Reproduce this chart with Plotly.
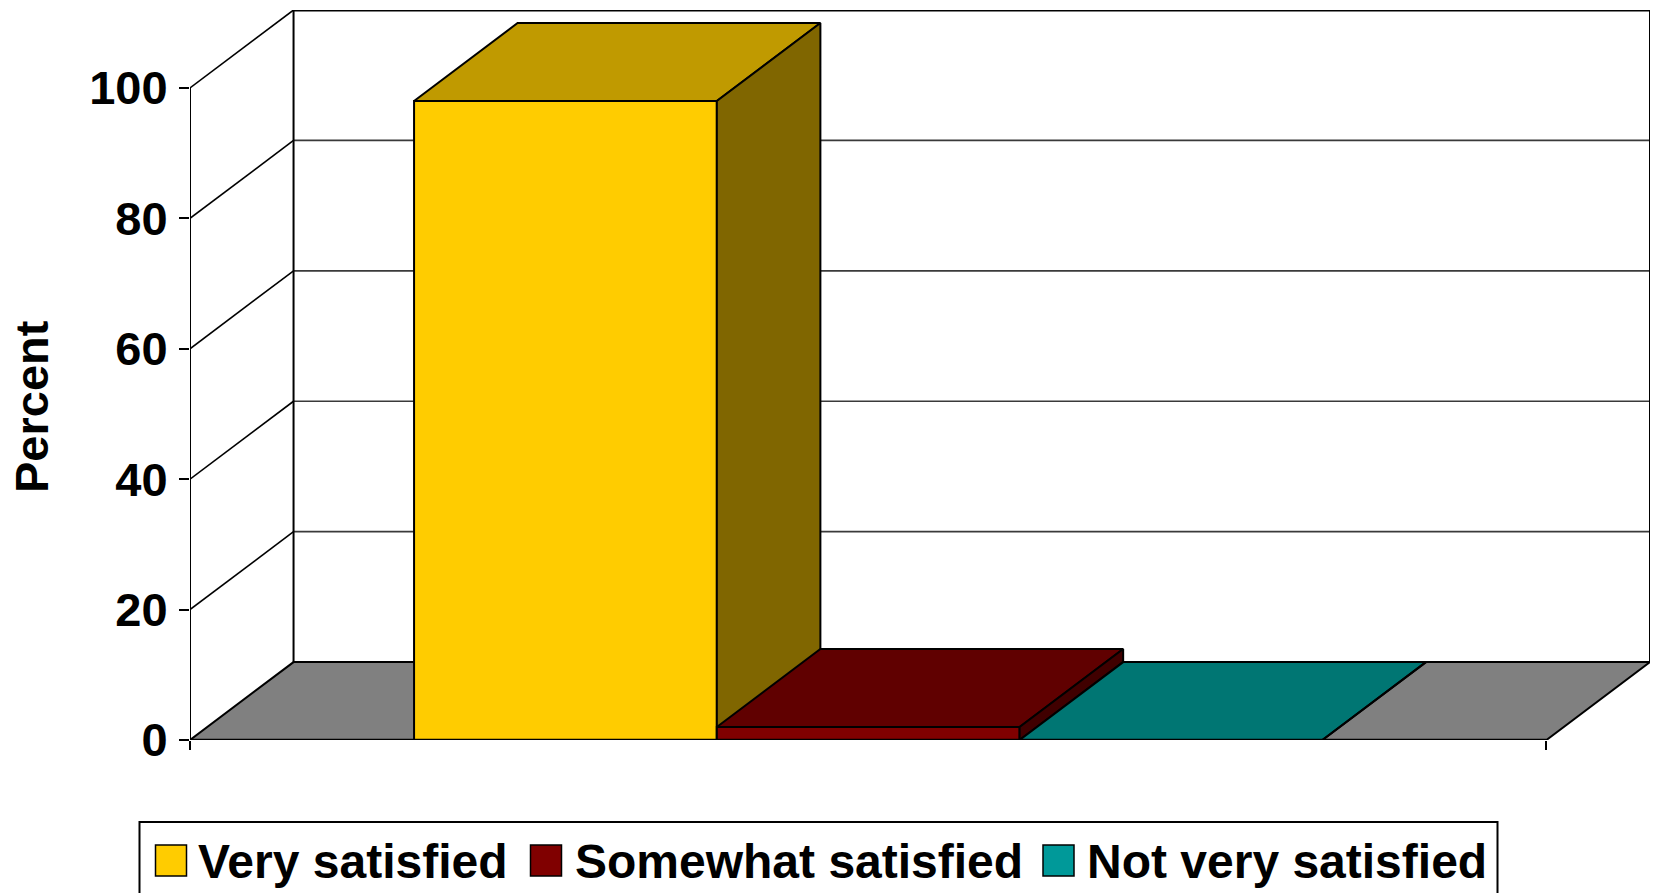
import plotly.graph_objects as go

# ---- data -------------------------------------------------------------
categories = ["Very satisfied", "Somewhat satisfied", "Not very satisfied"]
values = [98, 2, 0]
front_colors = ["#FFCC00", "#800000", "#009999"]
top_colors = ["#C09A00", "#600000", "#007673"]
side_colors = ["#806600", "#400000", "#004C4C"]
y_ticks = [0, 20, 40, 60, 80, 100]

# ---- 3-D projection settings (axis units) -----------------------------
GAP = 0.74                      # empty floor on each side of the bar group
BAR_W = 1.0                     # width of a single bar
FLOOR_W = 2 * GAP + len(values) * BAR_W
DX, DY = 0.342, 11.95           # oblique offset of the back plane
Y_TOP = max(y_ticks)

# pixel frame of the plotting area
W, H = 1656, 893
L, R, T, B = 190, 6, 10, 153
PW, PH = W - L - R, H - T - B

FONT = "Liberation Sans, Arial, sans-serif"

fig = go.Figure()


def poly(xs, ys, fill, lw=2):
    fig.add_trace(go.Scatter(
        x=list(xs) + [xs[0]], y=list(ys) + [ys[0]],
        mode="lines", fill="toself", fillcolor=fill,
        line=dict(color="black", width=lw),
        hoverinfo="skip", showlegend=False))


def seg(xs, ys, color="black", lw=2):
    fig.add_trace(go.Scatter(
        x=xs, y=ys, mode="lines", line=dict(color=color, width=lw),
        hoverinfo="skip", showlegend=False))


# back wall gridlines
for v in y_ticks[1:-1]:
    seg([DX, FLOOR_W + DX], [v + DY, v + DY], color="#3a3a3a", lw=1.6)
# back wall frame
seg([DX, FLOOR_W + DX], [Y_TOP + DY, Y_TOP + DY], lw=3)
seg([DX, DX], [DY, Y_TOP + DY], lw=2)
seg([FLOOR_W + DX, FLOOR_W + DX], [DY, Y_TOP + DY], lw=2)
# side wall diagonals
for v in y_ticks[1:]:
    seg([0, DX], [v, v + DY], lw=1.6)
# front value axis
seg([0, 0], [0, Y_TOP], lw=2)

# floor
poly([0, FLOOR_W, FLOOR_W + DX, DX], [0, 0, DY, DY], "#808080", lw=2)

# bars (front, top, right side)
for i, v in enumerate(values):
    x0 = GAP + i * BAR_W
    x1 = x0 + BAR_W
    poly([x0, x1, x1, x0], [0, 0, v, v], front_colors[i])
    poly([x0, x1, x1 + DX, x0 + DX], [v, v, v + DY, v + DY], top_colors[i])
    poly([x1, x1 + DX, x1 + DX, x1], [0, DY, v + DY, v], side_colors[i])

# floor front edge on top
seg([0, FLOOR_W], [0, 0], lw=2.5)


def px_x(p):
    return (p - L) / PW


def px_y(p):
    return (H - B - p) / PH


# y-axis title
annotations = [dict(
    text="<b>Percent</b>", textangle=-90, showarrow=False,
    xref="paper", yref="paper", x=px_x(31), y=px_y(407),
    xanchor="center", yanchor="middle",
    font=dict(family=FONT, size=47, color="black"))]

# legend box, swatches and labels
shapes = [dict(type="rect", xref="paper", yref="paper",
               x0=px_x(139.5), x1=px_x(1497.5), y0=px_y(822), y1=px_y(905),
               line=dict(color="black", width=2), fillcolor="white",
               layer="above")]
swatch_x = [155.5, 530.5, 1043]
label_x = [198, 575, 1087]
for sx, lx, name, col in zip(swatch_x, label_x, categories, front_colors):
    shapes.append(dict(type="rect", xref="paper", yref="paper",
                       x0=px_x(sx), x1=px_x(sx + 31), y0=px_y(845), y1=px_y(876),
                       line=dict(color="black", width=1.5), fillcolor=col,
                       layer="above"))
    annotations.append(dict(
        text=f"<b>{name}</b>", showarrow=False, xref="paper", yref="paper",
        x=px_x(lx - 2), y=px_y(861), xanchor="left", yanchor="middle",
        font=dict(family=FONT, size=48, color="black")))

fig.update_layout(
    width=W, height=H,
    margin=dict(l=L, r=R, t=T, b=B, pad=0),
    paper_bgcolor="white", plot_bgcolor="white",
    showlegend=False,
    xaxis=dict(range=[0, FLOOR_W + DX], showgrid=False, zeroline=False,
               showline=False, tickvals=[0, FLOOR_W], ticks="outside",
               ticklen=9, tickwidth=2, tickcolor="black",
               showticklabels=False, fixedrange=True),
    yaxis=dict(range=[0, Y_TOP + DY], showgrid=False, zeroline=False,
               showline=False, tickvals=y_ticks, ticks="outside",
               ticklen=10, tickwidth=2, tickcolor="black",
               ticklabelstandoff=2,
               tickfont=dict(family=FONT, size=47, color="black", weight="bold"),
               fixedrange=True),
    shapes=shapes,
    annotations=annotations,
)

fig.write_html("out.html")
